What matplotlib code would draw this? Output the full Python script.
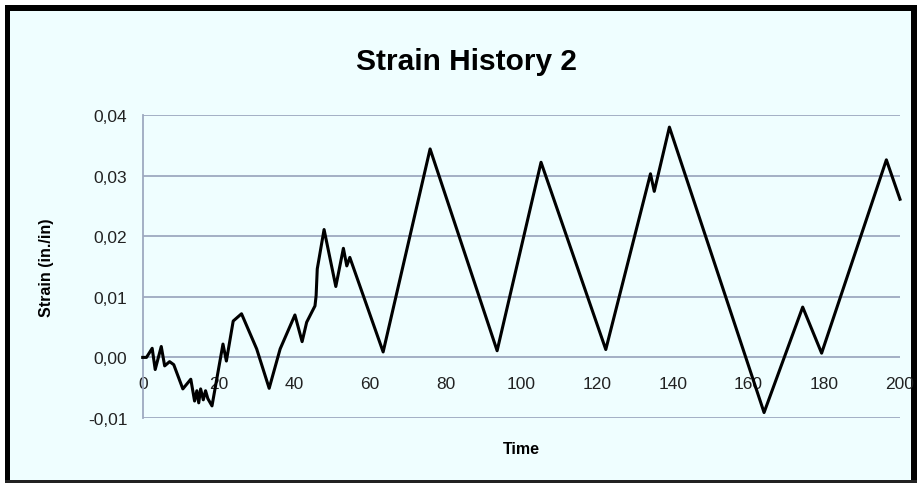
import matplotlib.pyplot as plt
from matplotlib.patches import Rectangle

# strain history readings
time = [0, 1, 2.5, 3.3, 4.9, 5.8, 7.1, 8.2, 10.6, 12.7, 13.7, 14.3, 14.8, 15.3,
        16.0, 16.6, 17.2, 18.3, 21.2, 22.1, 23.9, 26.1, 30.1, 33.4, 36.3, 40.2,
        42.1, 43.3, 44.6, 45.5, 45.8, 46.1, 47.9, 51.0, 53.0, 53.9, 54.7, 63.5,
        75.9, 93.6, 105.2, 122.3, 134.1, 135.1, 139.1, 164.1, 174.3, 179.3,
        196.4, 200]
strain = [0.0, 0.0, 0.0015, -0.002, 0.0018, -0.0014, -0.0007, -0.0012, -0.0052,
          -0.0036, -0.0072, -0.0055, -0.0075, -0.0052, -0.0070, -0.0055, -0.0068,
          -0.0080, 0.0022, -0.0006, 0.0060, 0.0072, 0.0014, -0.0051, 0.0014,
          0.0070, 0.0026, 0.0058, 0.0074, 0.0085, 0.0102, 0.0146, 0.0211, 0.0117,
          0.0180, 0.0151, 0.0165, 0.0009, 0.0344, 0.0011, 0.0322, 0.0013, 0.0303,
          0.0274, 0.0380, -0.0091, 0.0083, 0.0007, 0.0326, 0.0261]

yticks = [-0.01, 0.0, 0.01, 0.02, 0.03, 0.04]
ytick_labels = ['-0,01', '0,00', '0,01', '0,02', '0,03', '0,04']
xticks = [0, 20, 40, 60, 80, 100, 120, 140, 160, 180, 200]

W, H = 917, 485
bg = '#EFFEFF'
grid_col = '#9EA9C0'
fonts = ['Liberation Sans Narrow', 'Liberation Sans', 'DejaVu Sans']
plt.rcParams['font.family'] = fonts

fig = plt.figure(figsize=(W / 100, H / 100), dpi=100)
fig.patch.set_facecolor('white')

# chart area + dark window frame
def px_rect(x0, y0, x1, y1, color):
    # pixel box measured from the top-left corner
    fig.patches.append(Rectangle((x0 / W, 1 - y1 / H), (x1 - x0) / W, (y1 - y0) / H,
                                 transform=fig.transFigure, facecolor=color,
                                 edgecolor='none', zorder=-5))

px_rect(5, 7, 917, 484, bg)
px_rect(5, 6, 917, 12, 'black')
px_rect(5, 6, 10, 484, 'black')
px_rect(911, 6, 917, 484, 'black')
px_rect(5, 481, 917, 484, '#222222')

ax = fig.add_axes([142.7 / W, 1 - 419 / H, (900 - 142.7) / W, (419 - 116) / H])
ax.set_zorder(2)
ax.set_facecolor('none')
ax.plot(time, strain, color='black', lw=2.2, clip_on=False, zorder=3)

ax.set_xlim(0, 200)
ax.set_ylim(-0.01, 0.04)
ax.set_yticks(yticks)
ax.set_yticklabels(ytick_labels)
ax.set_xticks(xticks)
ax.set_xticklabels([str(t) for t in xticks])

for y in yticks:
    ax.axhline(y, color=grid_col, lw=1.3, zorder=1)

for s in ['top', 'right', 'bottom']:
    ax.spines[s].set_visible(False)
ax.spines['left'].set_color(grid_col)
ax.spines['left'].set_linewidth(1.3)

# x labels hang under the zero line
ax.tick_params(axis='x', length=0, pad=0, labelsize=12.5, colors='#222222')
for lbl in ax.get_xticklabels():
    lbl.set_y(0.139)
ax.tick_params(axis='y', length=0, pad=11, labelsize=12.5, colors='#222222')

fig.text(466 / W, 1 - 62 / H, 'Strain History 2', ha='center', va='center',
         fontsize=21.5, fontweight='bold', family=['Liberation Sans', 'DejaVu Sans'])
fig.text(47 / W, 1 - 268 / H, 'Strain (in./in)', ha='center', va='center',
         rotation=90, fontsize=11.5, fontweight='bold')
fig.text(521 / W, 1 - 450 / H, 'Time', ha='center', va='center',
         fontsize=11.5, fontweight='bold')

fig.savefig('out.png', dpi=100, facecolor=fig.get_facecolor())
